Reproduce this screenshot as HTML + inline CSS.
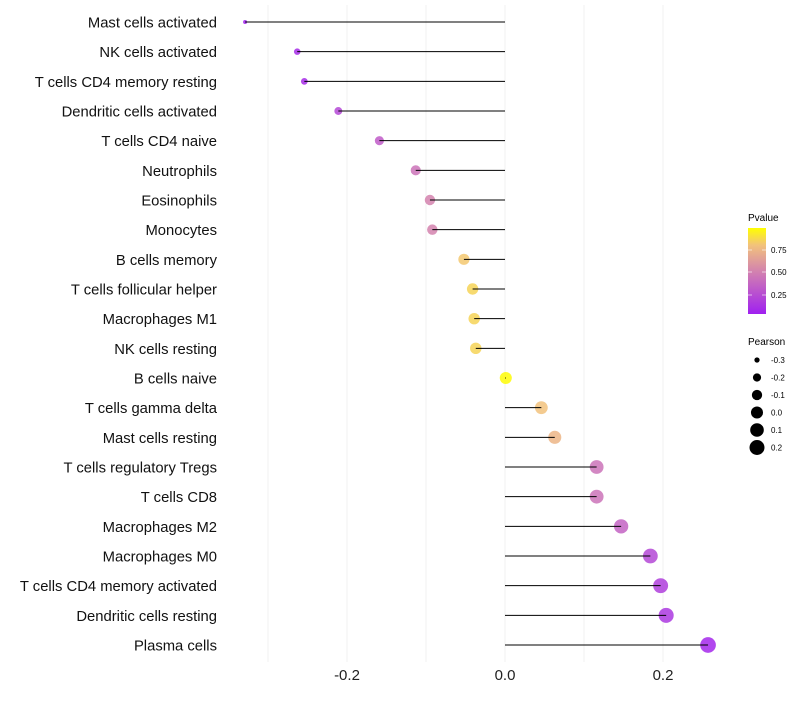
<!DOCTYPE html>
<html><head><meta charset="utf-8"><style>
body{margin:0;background:#fff;font-family:"Liberation Sans",sans-serif}
</style></head><body>
<svg id="chart" width="800" height="700" xmlns="http://www.w3.org/2000/svg">
<defs><linearGradient id="pg" x1="0" y1="1" x2="0" y2="0">
<stop offset="0" stop-color="#A020F0"/><stop offset="0.5" stop-color="#D383AE"/><stop offset="0.8" stop-color="#F2C27C"/><stop offset="1" stop-color="#FFFF00"/></linearGradient></defs>
<g id="grid"></g><g id="marks"></g><g id="ylabels"></g><g id="xlabels"></g>
<g>
<text x="748" y="221" font-size="10" fill="#000">Pvalue</text>
<rect x="748" y="228" width="18" height="86" fill="url(#pg)"/>
<g stroke="#fff" stroke-opacity="0.6"><line x1="748" y1="250" x2="752" y2="250"/><line x1="762" y1="250" x2="766" y2="250"/><line x1="748" y1="272" x2="752" y2="272"/><line x1="762" y1="272" x2="766" y2="272"/><line x1="748" y1="295" x2="752" y2="295"/><line x1="762" y1="295" x2="766" y2="295"/></g>
<text x="771" y="253" font-size="8">0.75</text><text x="771" y="275" font-size="8">0.50</text><text x="771" y="298" font-size="8">0.25</text>
</g>
<g id="sizeleg">
<text x="748" y="345" font-size="10">Pearson</text>
</g>
</svg>
<script>
const categories=["Mast cells activated","NK cells activated","T cells CD4 memory resting","Dendritic cells activated","T cells CD4 naive","Neutrophils","Eosinophils","Monocytes","B cells memory","T cells follicular helper","Macrophages M1","NK cells resting","B cells naive","T cells gamma delta","Mast cells resting","T cells regulatory  Tregs ","T cells CD8","Macrophages M2","Macrophages M0","T cells CD4 memory activated","Dendritic cells resting","Plasma cells"];
const pearson=[-0.329,-0.263,-0.254,-0.211,-0.159,-0.113,-0.095,-0.092,-0.052,-0.041,-0.039,-0.037,0.001,0.046,0.063,0.116,0.116,0.147,0.184,0.197,0.204,0.257];
const pvalue=[0.01,0.06,0.06,0.2,0.3,0.42,0.5,0.5,0.82,0.86,0.86,0.86,0.99,0.8,0.74,0.42,0.42,0.34,0.2,0.15,0.12,0.04];
const xTicks=[-0.2,0.0,0.2];
const gridVals=[-0.3,-0.2,-0.1,0,0.1,0.2];
const sizeLegend=[-0.3,-0.2,-0.1,0.0,0.1,0.2];
const NS="http://www.w3.org/2000/svg";
const X=v=>505+v*790;
const Y=i=>22+i*(623/21);
const R=v=>Math.sqrt(4+(v+0.33)/0.59*58);
function lerp(a,b,t){return a.map((x,i)=>Math.round(x+(b[i]-x)*t));}
const stops=[[0,[160,32,240]],[0.5,[211,131,174]],[0.8,[242,194,124]],[1,[255,255,0]]];
function col(p){for(let k=1;k<stops.length;k++){if(p<=stops[k][0]){const t=(p-stops[k-1][0])/(stops[k][0]-stops[k-1][0]);const c=lerp(stops[k-1][1],stops[k][1],t);return `rgb(${c})`;}}return "rgb(255,255,0)";}
function mk(t,a,parent){const e=document.createElementNS(NS,t);for(const k in a)e.setAttribute(k,a[k]);parent.appendChild(e);return e;}
const grid=document.getElementById('grid'),marks=document.getElementById('marks'),yl=document.getElementById('ylabels'),xl=document.getElementById('xlabels');
gridVals.forEach(v=>{const l=mk('line',{x1:X(v),x2:X(v),y1:5,y2:662,stroke:'#f0f0f0','stroke-width':1},grid);

});
xTicks.forEach(v=>{const t=mk('text',{x:X(v),y:680,'font-size':15,'text-anchor':'middle',fill:'#222'},xl);t.textContent=v.toFixed(1);

});
categories.forEach((c,i)=>{const y=Y(i);
const p=mk('circle',{cx:X(pearson[i]),cy:y,r:R(pearson[i]),fill:col(pvalue[i]),'fill-opacity':0.85},marks);


const l=mk('line',{x1:X(0),x2:X(pearson[i]),y1:y,y2:y,stroke:'#000','stroke-width':1},marks);


const t=mk('text',{x:217,y:y+5.5,'font-size':14.8,'text-anchor':'end',fill:'#111'},yl);t.textContent=c;

});
const sl=document.getElementById('sizeleg');
sizeLegend.forEach((v,i)=>{const y=360+i*17.5;
const c=mk('circle',{cx:757,cy:y,r:R(v),fill:'#000'},sl);


const t=mk('text',{x:771,y:y+3,'font-size':8},sl);t.textContent=v.toFixed(1);

});
</script>
</body></html>
